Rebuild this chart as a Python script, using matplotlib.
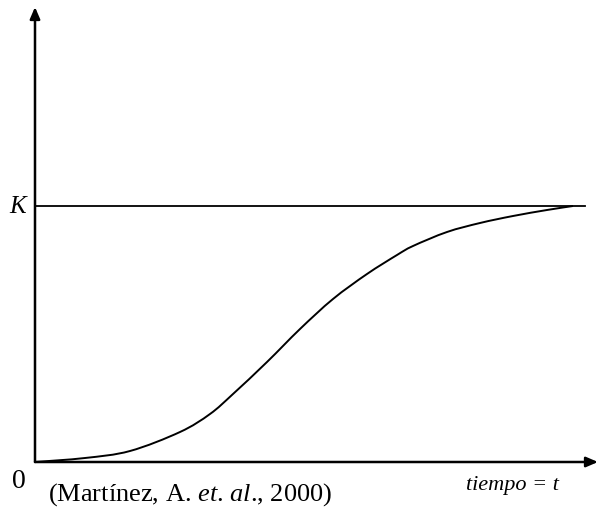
import matplotlib
matplotlib.use("Agg")
import matplotlib.pyplot as plt
import numpy as np
from matplotlib.path import Path
from matplotlib.patches import PathPatch

plt.rcParams["mathtext.fontset"] = "custom"
plt.rcParams["mathtext.rm"] = "Liberation Serif"
plt.rcParams["mathtext.it"] = "Liberation Serif:italic"

# Data (time units, population units)
t = [0, 50, 95, 145, 175, 198, 232, 265, 298, 332, 362, 378, 412, 445, 478, 512, 538]
N = [0, 4, 11, 30, 48, 68, 100, 133, 163, 188, 207, 216, 230, 239, 246, 252, 256]
K = 256
K_end = 550

fig = plt.figure(figsize=(5.98, 5.10), dpi=100)
ax = fig.add_axes([35/598, 47/510, (598-35)/598, (463-8)/510])
ax.set_xlim(0, 563)
ax.set_ylim(0, 455)
ax.axis("off")

# smooth curve through the read points (Catmull-Rom as Bezier segments)
P = np.column_stack([t, N]).astype(float)
verts = [tuple(P[0])]
codes = [Path.MOVETO]
n = len(P)
for i in range(n - 1):
    p0 = P[i - 1] if i > 0 else P[i]
    p1 = P[i]
    p2 = P[i + 1]
    p3 = P[i + 2] if i + 2 < n else P[i + 1]
    c1 = p1 + (p2 - p0) / 6.0
    c2 = p2 - (p3 - p1) / 6.0
    verts += [tuple(c1), tuple(c2), tuple(p2)]
    codes += [Path.CURVE4] * 3
ax.add_patch(PathPatch(Path(verts, codes), fill=False, edgecolor="black", lw=1.4))
ax.plot([0, K_end], [K, K], color="black", lw=1.3)

# axes with arrows
ax.annotate("", xy=(0, 455), xytext=(0, 0),
            arrowprops=dict(arrowstyle="-|>,head_length=0.7,head_width=0.3", color="black", lw=1.8, shrinkA=0, shrinkB=0),
            annotation_clip=False)
ax.annotate("", xy=(563, 0), xytext=(0, 0),
            arrowprops=dict(arrowstyle="-|>,head_length=0.7,head_width=0.3", color="black", lw=1.8, shrinkA=0, shrinkB=0),
            annotation_clip=False)

serif = ["Liberation Serif", "DejaVu Serif"]
fig.text(18/598, 1 - 207/510, "K", family=serif, style="italic", fontsize=18, ha="center", va="center")
fig.text(19/598, 1 - 488/510, "0", family=serif, fontsize=20, ha="center", va="baseline")

fig.text(48/598, 1 - 501/510, r"(Martínez, A. $\mathit{et}$. $\mathit{al}$., 2000)",
         family=serif, fontsize=19, ha="left", va="baseline")
fig.text(512/598, 1 - 490/510, "tiempo = t", family=serif, style="italic", fontsize=16, ha="center", va="baseline")

fig.savefig("out.png", dpi=100)
